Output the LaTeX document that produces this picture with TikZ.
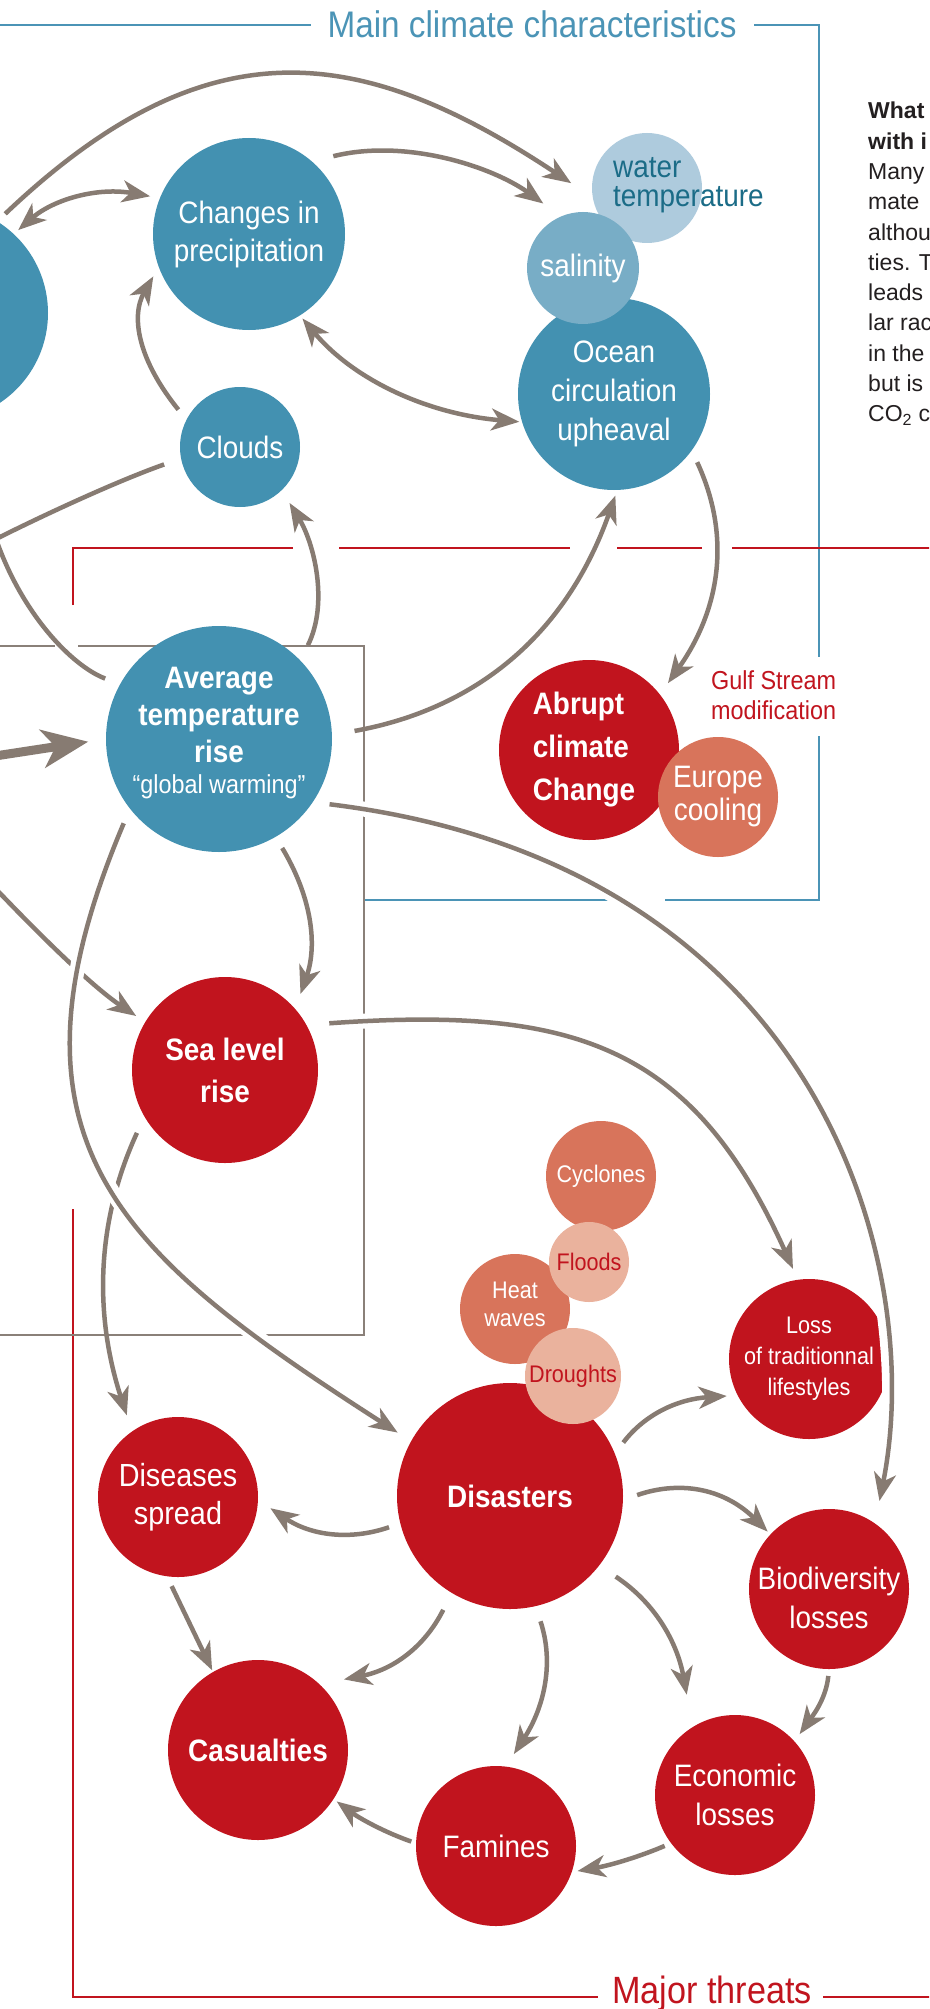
\documentclass[tikz,border=0pt]{standalone}
\usepackage{fontspec}
\setmainfont{Liberation Sans}[FakeStretch=0.9]
\newfontfamily\parafont{Liberation Sans}
\usetikzlibrary{arrows.meta}

\definecolor{hubblue}{HTML}{4391B1}
\definecolor{waterblue}{HTML}{AECBDD}
\definecolor{salinblue}{HTML}{78ADC6}
\definecolor{watertext}{HTML}{1B6C87}
\definecolor{threatred}{HTML}{C1141E}
\definecolor{warmorange}{HTML}{D8745B}
\definecolor{paleorange}{HTML}{EAB29D}
\definecolor{arrowgray}{HTML}{877B72}
\definecolor{frameblue}{HTML}{4B94B6}
\definecolor{boxgray}{HTML}{8A8079}
\definecolor{paratext}{HTML}{231F20}

\begin{document}
\begin{tikzpicture}[x=1pt, y=-1pt,
  >={Stealth[length=28pt,width=22pt,inset=8pt]},
  bubble/.style={circle, inner sep=-8pt, outer sep=0pt, text=white, align=center},
  cool/.style={bubble, fill=hubblue},
  hot/.style={bubble, fill=threatred},
  warm/.style={bubble, fill=warmorange},
  pale/.style={bubble, fill=paleorange, text=threatred},
  conn/.style={draw=arrowgray, line width=4.5pt},
  halo/.style={preaction={draw=white, line width=15pt, arrows=-}},
  bluefr/.style={draw=frameblue, line width=2.3pt},
  redfr/.style={draw=threatred, line width=2.3pt},
  boxfr/.style={draw=boxgray, line width=2.6pt}
]
\useasboundingbox (0,0) rectangle (929,2009);
\clip (0,0) rectangle (929,2009);
\fill[white] (0,0) rectangle (929,2009);

% ---------- frames ----------
\draw[bluefr] (-5,25) -- (311,25);
\draw[bluefr] (754,25) -- (819,25) -- (819,657);
\draw[bluefr] (819,736) -- (819,900) -- (665,900);
\draw[bluefr] (612,900) -- (364,900);

\draw[redfr] (73,605) -- (73,548) -- (293,548);
\draw[redfr] (339,548) -- (570,548);
\draw[redfr] (617,548) -- (702,548);
\draw[redfr] (732,548) -- (935,548);
\draw[redfr] (73,1209) -- (73,1997) -- (598,1997);
\draw[redfr] (823,1997) -- (935,1997);

\draw[boxfr] (-5,646) -- (55,646);
\draw[boxfr] (78,646) -- (364,646) -- (364,1335) -- (-5,1335);

\node[anchor=base, text=frameblue, font=\fontsize{37}{37}\selectfont] (title) at (532,38) {Main climate characteristics};
\node[anchor=base, text=threatred, font=\fontsize{38}{38}\selectfont] (threats) at (712,2003) {Major threats};

% ---------- climate bubbles ----------
\node[cool, minimum size=216pt] (lefthub) at (-60,313) {};
\node[cool, minimum size=192pt, font=\fontsize{31}{38}\selectfont] (precip) at (249,234) {Changes in\\precipitation};
\node[cool, minimum size=192pt, font=\fontsize{31}{39}\selectfont] (ocean) at (614,394) {Ocean\\circulation\\upheaval};
\node[bubble, fill=waterblue, minimum size=110pt] (water) at (647,188) {};
\node[bubble, fill=salinblue, minimum size=112pt, font=\fontsize{31}{31}\selectfont] (salin) at (583,268) {salinity};
\node[anchor=north west, inner sep=0pt, align=left, text=watertext, font=\fontsize{31}{29}\selectfont] (watertxt) at (613,157) {water\\temperature};
\node[cool, minimum size=120pt, font=\fontsize{31}{31}\selectfont] (clouds) at (240,447) {Clouds};
\node[cool, minimum size=226pt, font=\bfseries\fontsize{31}{37}\selectfont] (avg) at (219,739)
  {Average\\temperature\\rise\\[-6pt]{\mdseries\fontsize{26}{31}\selectfont “global warming”\rule[-18pt]{0pt}{1pt}}};

\node[hot, minimum size=180pt, align=left, font=\bfseries\fontsize{31}{43}\selectfont] (abrupt) at (589,750) {Abrupt\\climate\\Change\rule{10pt}{0pt}};
\node[warm, minimum size=120pt, font=\fontsize{31}{33}\selectfont] (europe) at (718,797) {Europe\\cooling};
\node[anchor=north west, inner sep=0pt, align=left, text=threatred, font=\fontsize{26}{30}\selectfont] (gulf) at (711,670) {Gulf Stream\\modification};

% ---------- threat bubbles ----------
\node[hot, minimum size=186pt, font=\bfseries\fontsize{31}{42}\selectfont] (sea) at (225,1070) {Sea level\\rise};
\node[hot, minimum size=226pt, font=\bfseries\fontsize{31}{31}\selectfont] (disasters) at (510,1496) {Disasters};
\node[warm, minimum size=110pt, font=\fontsize{24}{24}\selectfont] (cyclones) at (601,1176) {Cyclones};
\node[warm, minimum size=110pt, font=\fontsize{24}{28}\selectfont] (heat) at (515,1309) {Heat\\waves\rule[-10pt]{0pt}{1pt}};
\node[pale, minimum size=80pt, font=\fontsize{24}{24}\selectfont] (floods) at (589,1262) {Floods};
\node[pale, minimum size=96pt, font=\fontsize{24}{24}\selectfont] (droughts) at (573,1376) {Droughts};
\node[hot, minimum size=160pt, font=\fontsize{24}{31}\selectfont] (loss) at (809,1359) {Loss\\of traditionnal\\lifestyles};
\node[hot, minimum size=160pt, font=\fontsize{32}{38}\selectfont] (diseases) at (178,1497) {Diseases\\spread};
\node[hot, minimum size=160pt, font=\fontsize{31}{39}\selectfont] (biodiv) at (829,1589) {\rule{0pt}{41pt}Biodiversity\\losses};
\node[hot, minimum size=180pt, font=\bfseries\fontsize{31}{31}\selectfont] (casualties) at (258,1750) {Casualties};
\node[hot, minimum size=160pt, font=\fontsize{31}{31}\selectfont] (famines) at (496,1846) {Famines};
\node[hot, minimum size=160pt, font=\fontsize{31}{39}\selectfont] (economic) at (735,1795) {Economic\\losses};

% ---------- side text ----------
\node[anchor=north west, inner sep=0pt, align=left, text=paratext, font=\parafont\fontsize{23}{30.3}\selectfont] (sidetext) at (868,102)
  {\textbf{What}\\\textbf{with i}\\Many\\mate\\althou\\ties. T\\leads\\lar rac\\in the\\but is\\CO\textsubscript{2} c};

% ---------- free ends off the left edge ----------
\coordinate (vA) at (-4,539);
\coordinate (inA) at (-5,756);
\coordinate (inB) at (-5,888);

% ---------- connectors ----------
\draw[conn, ->, shorten <=11pt, shorten >=26pt] (lefthub.58) .. controls (207,22) and (360,43) .. (water.190);
\draw[conn, <->, shorten <=6pt, shorten >=10pt] (lefthub.47) .. controls (54,199) and (98,187) .. (precip.158);
\draw[conn, ->, shorten <=22pt, shorten >=22pt] (precip.49) .. controls (406,138) and (493,167) .. (salin.113);
\draw[conn, <->, shorten <=4pt, shorten >=3pt] (precip.302) .. controls (353,379) and (426,414) .. (ocean.197);
\draw[conn, ->, shorten <=13pt, shorten >=11pt] (clouds.153) .. controls (139,361) and (130,317) .. (precip.200);
\draw[conn, shorten <=18pt] (clouds.191) .. controls (120,480) and (50,512) .. (vA);
\draw[conn, shorten >=16pt] (vA) .. controls (22,614) and (72,666) .. (avg.151);
\draw[draw=arrowgray, line width=9pt, -{Stealth[length=46pt,width=38pt,inset=13pt]}, shorten >=18pt] (inA) -- (avg.180);
\draw[conn, ->, shorten <=17pt, shorten >=15pt] (avg.44) .. controls (329,603) and (314,543) .. (clouds.314);
\draw[conn, ->, shorten <=23pt, shorten >=6pt] (avg.2) .. controls (481,708) and (568,630) .. (ocean.272);
\draw[conn, ->, shorten <=13pt, shorten >=14pt] (ocean.324) .. controls (731,535) and (721,608) .. (abrupt.38);
\draw[conn, ->, shorten <=13pt, shorten >=16pt] (avg.300) .. controls (311,896) and (318,944) .. (sea.41);
\draw[conn, halo, ->, shorten <=17pt, shorten >=23pt] (avg.326) .. controls (825,865) and (926,1270) .. (biodiv.55);
\draw[conn, ->, shorten >=11pt] (inB) .. controls (35,930) and (90,985) .. (sea.149);
\draw[conn, ->, shorten <=18pt, shorten >=17pt] (sea.210) .. controls (96,1222) and (94,1315) .. (diseases.125);
\draw[conn, halo, ->, shorten <=16pt, shorten >=16pt] (avg.218) .. controls (-11,1141) and (118,1253) .. (disasters.151);
\draw[conn, halo, ->, shorten <=23pt, shorten >=12pt] (sea.29) .. controls (573,1006) and (692,1044) .. (loss.98);
\draw[conn, ->, shorten <=14pt, shorten >=11pt] (disasters.22) .. controls (645,1414) and (678,1399) .. (loss.207);
\draw[conn, ->, shorten <=15pt, shorten >=4pt] (disasters.358) .. controls (684,1479) and (727,1491) .. (biodiv.137);
\draw[conn, ->, shorten <=12pt, shorten >=15pt] (disasters.194) .. controls (349,1541) and (310,1535) .. (diseases.358);
\draw[conn, ->, shorten <=19pt, shorten >=25pt] (disasters.239) .. controls (424,1648) and (392,1670) .. (casualties.47);
\draw[conn, ->, shorten <=16pt, shorten >=15pt] (disasters.283) .. controls (554,1662) and (545,1706) .. (famines.83);
\draw[conn, ->, shorten <=20pt, shorten >=33pt] (disasters.322) .. controls (654,1602) and (677,1641) .. (economic.122);
\draw[conn, ->, shorten <=11pt, shorten >=2pt] (diseases.262) -- (casualties.120);
\draw[conn, ->, shorten <=7pt, shorten >=9pt] (biodiv.270) .. controls (826,1700) and (811,1718) .. (economic.42);
\draw[conn, ->, shorten <=7pt, shorten >=6pt] (economic.217) .. controls (641,1856) and (612,1865) .. (famines.341);
\draw[conn, ->, shorten <=5pt, shorten >=4pt] (famines.178) .. controls (384,1832) and (359,1818) .. (casualties.327);
\end{tikzpicture}
\end{document}
